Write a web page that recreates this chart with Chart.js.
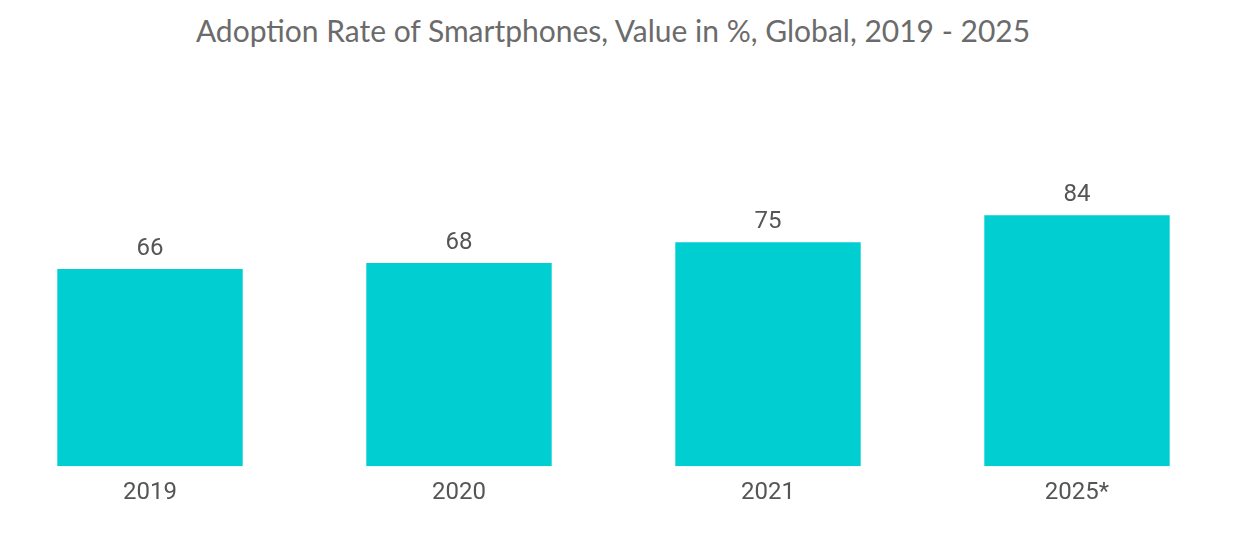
<!DOCTYPE html>
<html>
<head>
<meta charset="utf-8">
<script src="https://cdn.jsdelivr.net/npm/chart.js@4/dist/chart.umd.min.js"></script>
<style>
  html, body { margin: 0; padding: 0; background: #ffffff; overflow: hidden; }
  #wrap { position: relative; width: 1240px; height: 550px; }
  #title { position: absolute; left: -7px; top: 12px; width: 1240px; text-align: center;
           font-family: Lato, "Open Sans", sans-serif; font-size: 30px; color: #6b6b6b; }
  #c { position: absolute; left: -10px; top: 0; }
</style>
</head>
<body>
<div id="wrap">
  <div id="title">Adoption Rate of Smartphones, Value in %, Global, 2019 - 2025</div>
  <canvas id="c" width="1250" height="550"></canvas>
</div>
<script>
const categories = ["2019", "2020", "2021", "2025*"];
const adoptionRate = [66, 68, 75, 84];
const barColor = "#00CED1";

const valueLabels = {
  id: "valueLabels",
  afterDatasetsDraw(chart) {
    const ctx = chart.ctx;
    const meta = chart.getDatasetMeta(0);
    ctx.save();
    ctx.font = "24px Roboto";
    ctx.fillStyle = "#555555";
    ctx.textAlign = "center";
    ctx.textBaseline = "bottom";
    meta.data.forEach((bar, i) => {
      ctx.fillText(String(chart.data.datasets[0].data[i]), bar.x, bar.y - 8);
    });
    ctx.restore();
  }
};

new Chart(document.getElementById("c"), {
  type: "bar",
  data: {
    labels: categories,
    datasets: [{
      data: adoptionRate,
      backgroundColor: barColor,
      borderWidth: 0,
      barPercentage: 0.6,
      categoryPercentage: 1.0
    }]
  },
  options: {
    responsive: false,
    animation: false,
    layout: { padding: { left: 5.5, right: 8.5, top: 167.5, bottom: 31 } },
    plugins: { legend: { display: false }, title: { display: false }, tooltip: { enabled: false } },
    scales: {
      x: {
        grid: { display: false, drawTicks: false },
        border: { display: false },
        ticks: { font: { family: "Roboto", size: 24 }, color: "#555555", padding: 12 }
      },
      y: {
        display: false,
        min: 0,
        max: 100
      }
    }
  },
  plugins: [valueLabels]
});
</script>
</body>
</html>
